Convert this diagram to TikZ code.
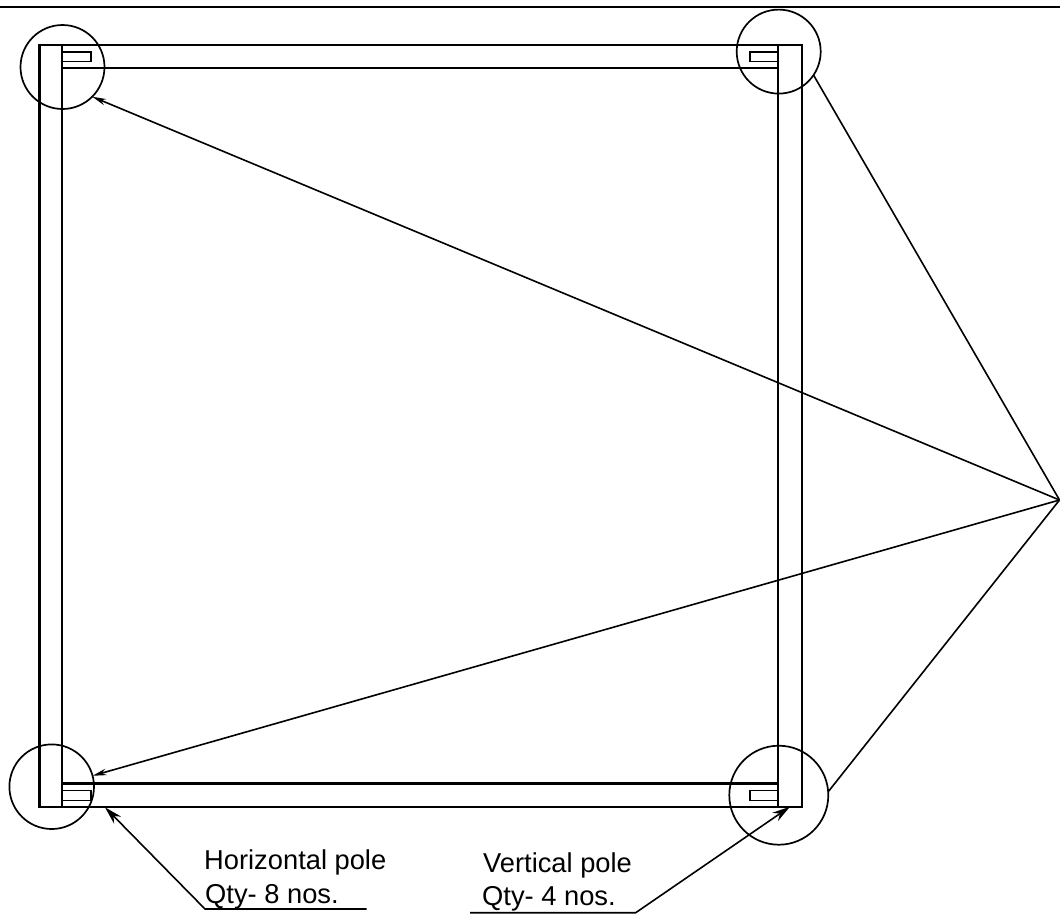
\documentclass[tikz,border=0pt]{standalone}
\usepackage{fontspec}
\setmainfont{Liberation Sans}
\usetikzlibrary{arrows.meta}

\begin{document}
\begin{tikzpicture}[
                x=1pt, y=-1pt,
                pole/.style={line width=2.1pt},
                slot/.style={draw, line width=1.9pt},
                detail/.style={circle, draw, line width=1.7pt, inner sep=0pt, outer sep=0pt},
                leader/.style={line width=1.6pt},
                smalltip/.style={-{Stealth[length=14pt, width=6.5pt]}},
                bigtip/.style={-{Stealth[length=18pt, width=10pt]}},
                note/.style={anchor=base west, inner sep=0pt, font=\fontsize{27.3pt}{30pt}\selectfont},
                ]
                \useasboundingbox (0,0) rectangle (1060,914);
                %Top line
                \draw[line width=1.6pt] (0,7) -- (1060,7);

                %Frame
                \draw[pole] (39.5,45) rectangle (802,807);
                \draw[pole] (62.3,45) -- (62.3,807);
                \draw[pole] (778.3,45) -- (778.3,807);
                \draw[pole] (62.3,67.7) -- (778.3,67.7);
                \draw[pole] (62.3,783.5) -- (778.3,783.5);

                %Slots
                \draw[slot] (62.3,52) rectangle (91,61.5);
                \draw[slot] (750,52) rectangle (778.3,61.5);
                \draw[slot] (62.3,790.5) rectangle (91,800.5);
                \draw[slot] (750,790.5) rectangle (778.3,800.5);

                %Nodes
                \node[detail, minimum size=84pt]  (topleft)     at (62.5,67)    {};
                \node[detail, minimum size=84pt]  (topright)    at (778.7,51.6) {};
                \node[detail, minimum size=84.6pt] (bottomleft) at (51.7,786.7) {};
                \node[detail, minimum size=99pt]  (bottomright) at (778.8,795.2) {};

                \coordinate (apex) at (1059.5,500);
                \coordinate (hpoletip) at (105,807.3);
                \coordinate (hpoleknee) at (205,909);
                \coordinate (hpoleend) at (366.7,909);
                \coordinate (vpoletip) at (790,806.7);
                \coordinate (vpoleknee) at (635.7,912.7);
                \coordinate (vpoleend) at (470,912.7);

                \node[note] (hpolename) at (204,869) {Horizontal pole};
                \node[note] (hpoleqty)  at (205,903) {Qty- 8 nos.};
                \node[note] (vpolename) at (483,872.7) {Vertical pole};
                \node[note] (vpoleqty)  at (482,905) {Qty- 4 nos.};

                %Lines
                \draw[leader, smalltip] (apex) -- (topleft.-45);
                \draw[leader, smalltip] (apex) -- (bottomleft.15.8);
                \draw[leader] (apex) -- (topright.-34.3);
                \draw[leader] (apex) -- (bottomright.4);
                \draw[leader, bigtip] (hpoleend) -- (hpoleknee) -- (hpoletip);
                \draw[leader, bigtip] (vpoleend) -- (vpoleknee) -- (vpoletip);
\end{tikzpicture}
\end{document}
